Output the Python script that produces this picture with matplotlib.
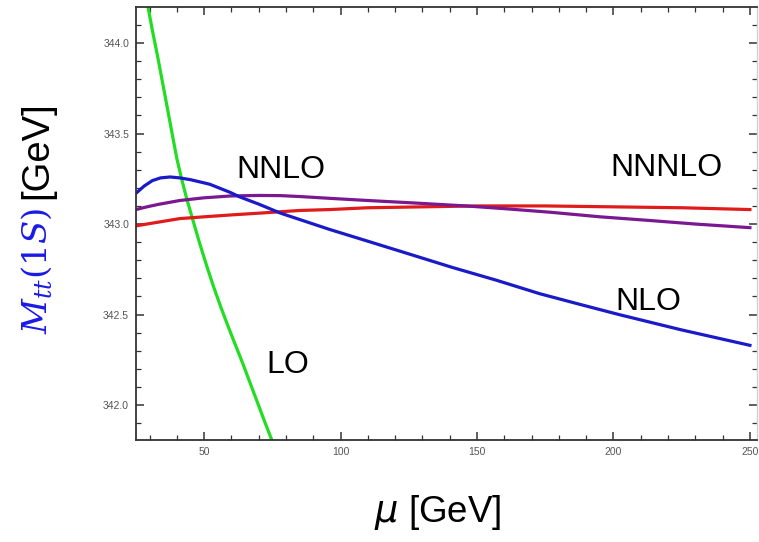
import matplotlib
matplotlib.use("Agg")
import matplotlib.pyplot as plt
from matplotlib.ticker import MultipleLocator, FormatStrFormatter

# ---- data ----
lo_mu = [28.8, 29.4, 31, 33, 35, 37, 38.6, 40, 41.7, 43.5, 45.5, 48.5, 51, 53.4,
         56, 58.5, 60.7, 64, 67, 70, 72.5, 74.7, 76]
lo_m = [344.25, 344.20, 344.07, 343.92, 343.76, 343.60, 343.47, 343.36, 343.25,
        343.145, 343.04, 342.885, 342.765, 342.655, 342.545, 342.445, 342.36, 342.235,
        342.115, 341.995, 341.895, 341.81, 341.76]

nlo_mu = [25, 28, 31, 34, 37.5, 41, 45, 52, 59.5, 63, 70, 78, 85, 96, 110, 125,
          141, 157, 173, 188, 202, 225, 250]
nlo_m = [343.17, 343.21, 343.24, 343.255, 343.26, 343.255, 343.245, 343.22, 343.175,
         343.15, 343.11, 343.06, 343.025, 342.97, 342.905, 342.835, 342.76, 342.69,
         342.615, 342.555, 342.50, 342.415, 342.33]

nnlo_mu = [25, 29, 33, 41, 50, 59.5, 70, 78, 85, 96, 110, 125, 146, 160, 177, 195,
           213, 230, 250]
nnlo_m = [343.08, 343.095, 343.108, 343.13, 343.145, 343.155, 343.158, 343.157,
          343.152, 343.142, 343.13, 343.118, 343.10, 343.085, 343.065, 343.04,
          343.02, 343.00, 342.98]

nnnlo_mu = [25, 29, 33, 41, 50, 59.5, 70, 85, 96, 110, 130, 150, 175, 200, 225, 250]
nnnlo_m = [342.99, 343.0, 343.01, 343.03, 343.04, 343.05, 343.06, 343.075, 343.08,
           343.09, 343.095, 343.10, 343.10, 343.095, 343.09, 343.08]

labels = ["LO", "NLO", "NNLO", "NNNLO"]
label_mu = [80.5, 212.7, 78.1, 219.5]
label_m = [342.22, 342.57, 343.30, 343.31]

x_ticks = [50, 100, 150, 200, 250]
y_ticks = [342.0, 342.5, 343.0, 343.5, 344.0]

# ---- figure ----
W, H = 759, 542
fig = plt.figure(figsize=(W / 100, H / 100), dpi=100)
ax = fig.add_axes([136 / W, 1 - 440 / H, (757 - 136) / W, (440 - 7) / H])

ax.plot(lo_mu, lo_m, color="#22dd22", lw=2.3, solid_capstyle="butt")
ax.plot(nnnlo_mu, nnnlo_m, color="#e01b1b", lw=2.3)
ax.plot(nnlo_mu, nnlo_m, color="#7a1890", lw=2.3)
ax.plot(nlo_mu, nlo_m, color="#1a1ac8", lw=2.3)

ax.set_xlim(25, 252.6)
ax.set_ylim(341.807, 344.199)

for t, xm, ym in zip(labels, label_mu, label_m):
    ax.text(xm, ym, t, fontsize=23, family="Liberation Sans",
            ha="center", va="center", color="black")

ax.xaxis.set_major_locator(plt.FixedLocator(x_ticks))
ax.yaxis.set_major_locator(plt.FixedLocator(y_ticks))
ax.xaxis.set_minor_locator(MultipleLocator(10))
ax.yaxis.set_minor_locator(MultipleLocator(0.1))
ax.yaxis.set_major_formatter(FormatStrFormatter("%.1f"))

spine_col = "#333333"
for s in ["left", "bottom", "top"]:
    ax.spines[s].set_color(spine_col)
    ax.spines[s].set_linewidth(1.3)
ax.spines["right"].set_color("#d0d0d0")
ax.spines["right"].set_linewidth(1.0)

ax.tick_params(which="both", direction="in", top=True, right=True,
               color=spine_col, labelcolor="#555555", labelsize=7.5)
ax.tick_params(which="major", length=6, width=1.1, pad=5)
ax.tick_params(which="minor", length=3.5, width=0.9)
for lab in ax.get_xticklabels() + ax.get_yticklabels():
    lab.set_family("Liberation Sans")

# axis labels
fig.text(438 / W, 1 - 513 / H, r"$\mu$ [GeV]", fontsize=26.5,
         family="Liberation Sans", ha="center", va="center")
fig.text(37 / W, 1 - 150 / H, "[GeV]", fontsize=27.5, family="Liberation Sans",
         rotation=90, ha="center", va="center")
fig.text(37 / W, 1 - 271 / H, r"$M_{tt}(1S)$", fontsize=24.5,
         color="#1a1ae6", rotation=90, ha="center", va="center",
         math_fontfamily="dejavuserif")

fig.savefig("out.png", dpi=100)
